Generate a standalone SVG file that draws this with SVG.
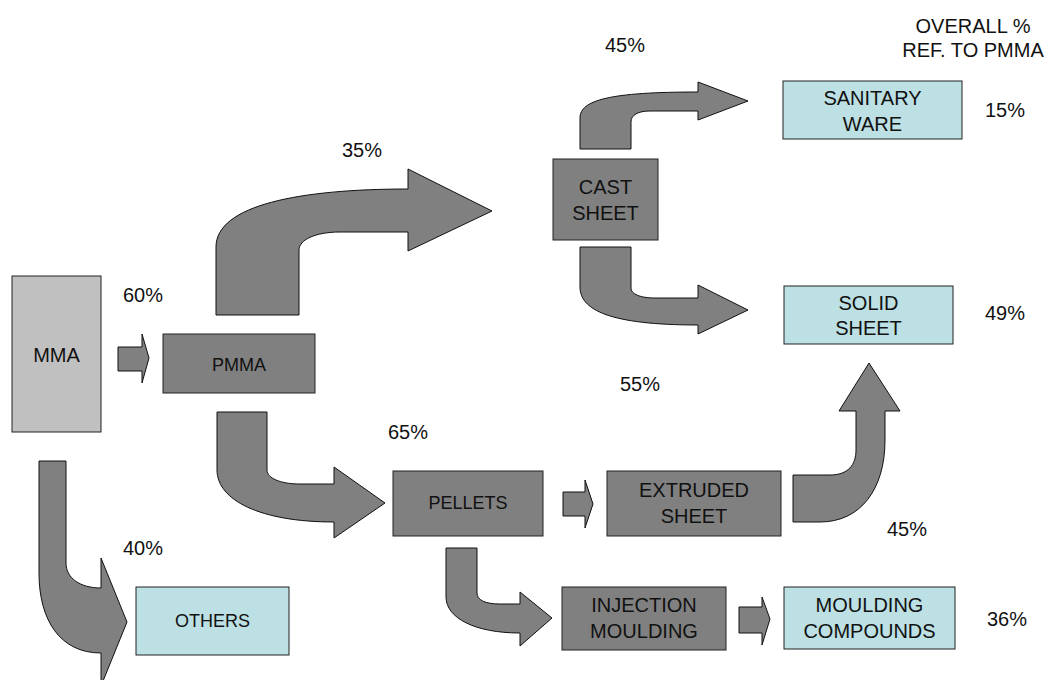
<svg xmlns="http://www.w3.org/2000/svg" width="1052" height="680" viewBox="0 0 1052 680">
<style>
text{font-family:"Liberation Sans",Arial,sans-serif;fill:#111;text-anchor:middle;dominant-baseline:central}
.t{font-size:20px}
.s{font-size:18px}
.box{fill:#808080;stroke:#222;stroke-width:1}
.end{fill:#bce0e3;stroke:#222;stroke-width:1}
.mma{fill:#c0c0c0;stroke:#222;stroke-width:1}
.arr{fill:#808080;stroke:#111;stroke-width:1;stroke-linejoin:miter}
</style>
<rect width="1052" height="680" fill="#fff"/>
<g id="connectors">
<path class="arr" d="M118,347 L142,347 L142,334 L149,358 L142,383 L142,371 L118,371 Z"/>
<path class="arr" d="M216,315 L216,247 C216,205 300,189 408,189 L408,169 L492,211 L408,251 L408,232 L340,232 C315,232 299,240 299,250 L299,315 Z"/>
<path class="arr" d="M580,149 L580,118 C580,100 610,92 698,92 L698,82 L748,101 L698,120 L698,111 L650,111 C638,111 631,115 631,122 L631,149 Z"/>
<path class="arr" d="M580,247 L580,287 C580,310 610,325 698,325 L698,334 L748,310 L698,285 L698,298 L655,298 C640,298 631,294 631,288 L631,247 Z"/>
<path class="arr" d="M217,412 L217,470 C217,500 260,522 334,522 L334,538 L385,503 L334,467 L334,484 L300,484 C280,484 267,478 267,470 L267,412 Z"/>
<path class="arr" d="M446,548 L446,597 C446,618 475,633 520,633 L520,646 L552,618 L520,592 L520,604 L500,604 C485,604 477,600 477,593 L477,548 Z"/>
<path class="arr" d="M563,492 L585,492 L585,480 L593,504 L585,528 L585,516 L563,516 Z"/>
<path class="arr" d="M739,607 L762,607 L762,597 L770,619 L762,645 L762,633 L739,633 Z"/>
<path class="arr" d="M39,461 L39,573 C39,620 60,653 101,653 L101,686 L127,622 L101,558 L101,588 C80,588 66,578 66,563 L66,461 Z"/>
<path class="arr" d="M793,522 L820,522 C860,522 885,490 885,440 L885,411 L900,411 L869,363 L839,411 L856,411 L856,450 C856,465 848,475 830,475 L793,475 Z"/>
</g>
<g id="mma"><rect class="mma" x="12" y="276" width="89" height="156"/><text class="t" x="56.5" y="355">MMA</text></g>
<g id="pmma"><rect class="box" x="163" y="334" width="152" height="59"/><text class="s" x="239" y="365">PMMA</text></g>
<g id="cast"><rect class="box" x="553" y="159" width="105" height="81"/><text class="t" x="605.5" y="187">CAST</text><text class="t" x="605.5" y="213">SHEET</text></g>
<g id="pellets"><rect class="box" x="393" y="471" width="150" height="65"/><text class="s" x="468" y="503">PELLETS</text></g>
<g id="extruded"><rect class="box" x="607" y="471" width="174" height="65"/><text class="t" x="694" y="490">EXTRUDED</text><text class="t" x="694" y="516">SHEET</text></g>
<g id="injection"><rect class="box" x="562" y="587" width="164" height="63"/><text class="t" x="644" y="605">INJECTION</text><text class="t" x="644" y="631">MOULDING</text></g>
<g id="sanitary"><rect class="end" x="783" y="81" width="179" height="58"/><text class="t" x="872.5" y="98">SANITARY</text><text class="t" x="872.5" y="124">WARE</text></g>
<g id="solid"><rect class="end" x="784" y="286" width="169" height="58"/><text class="t" x="868.5" y="303">SOLID</text><text class="t" x="868.5" y="328">SHEET</text></g>
<g id="compounds"><rect class="end" x="784" y="587" width="171" height="62"/><text class="t" x="869.5" y="605">MOULDING</text><text class="t" x="869.5" y="631">COMPOUNDS</text></g>
<g id="others"><rect class="end" x="136" y="587" width="153" height="68"/><text class="s" x="212.5" y="621">OTHERS</text></g>
<g id="labels">
<text class="t" x="973" y="26">OVERALL %</text>
<text class="t" x="973" y="50">REF. TO PMMA</text>
<text class="t" x="143" y="295">60%</text>
<text class="t" x="362" y="150">35%</text>
<text class="t" x="625" y="45">45%</text>
<text class="t" x="640" y="384">55%</text>
<text class="t" x="408" y="432">65%</text>
<text class="t" x="143" y="548">40%</text>
<text class="t" x="907" y="529">45%</text>
<text class="t" x="1005" y="110">15%</text>
<text class="t" x="1005" y="313">49%</text>
<text class="t" x="1007" y="619">36%</text>
</g>
</svg>
